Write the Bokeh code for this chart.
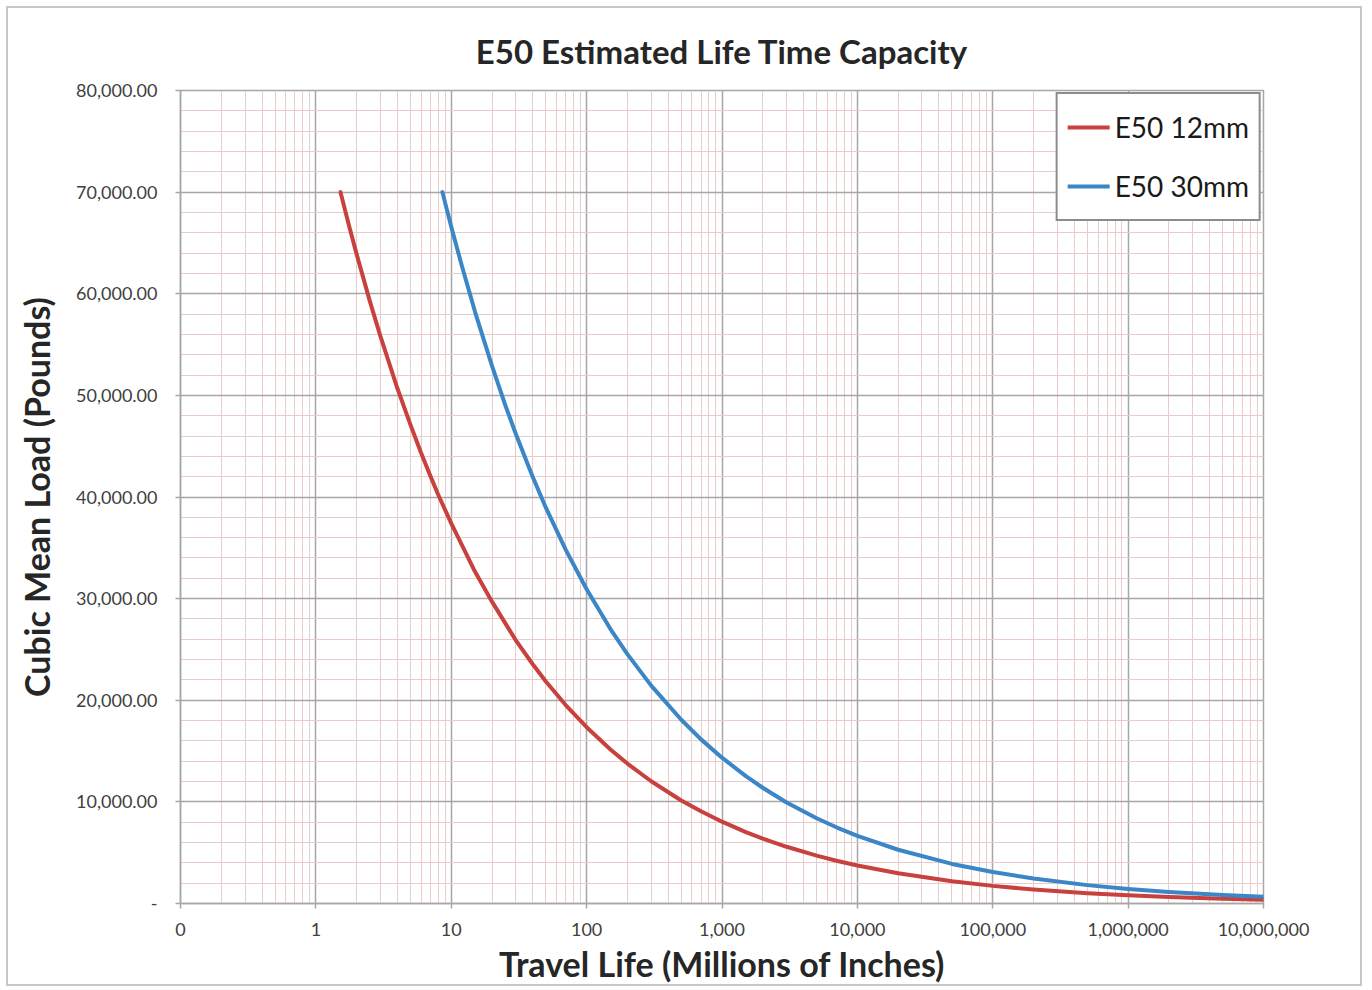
from bokeh.plotting import figure
from bokeh.models import FixedTicker, NumeralTickFormatter, Legend, LegendItem, Range1d
from bokeh.embed import file_html
from bokeh.resources import INLINE

title_text = "E50 Estimated Life Time Capacity"
x_label = "Travel Life (Millions of Inches)"
y_label = "Cubic Mean Load (Pounds)"

series_names = ["E50 12mm", "E50 30mm"]

life_12mm = [1.52, 1.75, 2, 2.5, 3, 4, 5, 6, 7, 8, 10, 15, 20, 30, 40, 50, 70, 100, 150, 200,
             300, 500, 700, 1000, 1500, 2000, 3000, 5000, 7000, 10000, 20000, 50000, 100000,
             200000, 500000, 1000000, 2000000, 5000000, 10000000]
load_12mm = [70000, 66800, 63900, 59300, 55800, 50700, 47100, 44300, 42100, 40250, 37400, 32640,
             29700, 25900, 23540, 21850, 19530, 17350, 15150, 13770, 12030, 10140, 9070, 8050,
             7030, 6390, 5580, 4710, 4210, 3740, 2970, 2185, 1735, 1377, 1014, 805, 639, 471, 374]

life_30mm = [8.6, 10, 12, 15, 20, 25, 30, 40, 50, 70, 100, 150, 200, 300, 500, 700, 1000, 1500,
             2000, 3000, 5000, 7000, 10000, 20000, 50000, 100000, 200000, 500000, 1000000,
             2000000, 5000000, 10000000]
load_30mm = [70000, 66600, 62700, 58200, 52900, 49080, 46200, 41960, 38950, 34820, 30920, 27010,
             24540, 21440, 18080, 16150, 14350, 12530, 11390, 9940, 8390, 7500, 6660, 5290, 3895,
             3092, 2454, 1808, 1435, 1139, 839, 666]

x_major = [0.1, 1, 10, 100, 1000, 10000, 100000, 1000000, 10000000]
y_major = [0, 10000, 20000, 30000, 40000, 50000, 60000, 70000, 80000]
y_minor = list(range(0, 80001, 2000))

x_minor = []
for d in x_major[:-1]:
    for k in range(1, 10):
        x_minor.append(d * k)
x_minor.append(x_major[-1])

red = "#c8413e"
blue = "#3a86c6"
major_grid = "#a6a6a6"
minor_grid = "#eacbcb"

p = figure(width=1356, height=980, x_axis_type="log",
           x_range=Range1d(x_major[0], x_major[-1]), y_range=Range1d(y_major[0], y_major[-1]),
           output_backend="svg", toolbar_location=None,
           min_border_left=172, min_border_top=82, min_border_right=101, min_border_bottom=85)
p.styles = {"border": "2px solid #c8c8c8", "margin": "6px"}

p.title.text = title_text
p.title.text_font = "Lato"
p.title.text_font_size = "33px"
p.title.text_font_style = "bold"
p.title.text_color = "#262626"
p.title.align = "center"
p.title.standoff = 40

p.xaxis.ticker = FixedTicker(ticks=x_major, minor_ticks=x_minor)
p.yaxis.ticker = FixedTicker(ticks=y_major, minor_ticks=y_minor)
p.xaxis.formatter = NumeralTickFormatter(format="0,0")
p.yaxis.formatter = NumeralTickFormatter(format="0,0.00")
p.yaxis.major_label_overrides = {0: "-"}

for ax in (p.xaxis, p.yaxis):
    ax.axis_line_color = major_grid
    ax.axis_line_width = 1.5
    ax.major_tick_line_color = major_grid
    ax.major_tick_line_width = 1.5
    ax.major_tick_out = 5
    ax.major_tick_in = 0
    ax.minor_tick_line_color = None
    ax.major_label_text_font = "Lato"
    ax.major_label_text_font_size = "18px"
    ax.major_label_text_color = "#404040"
    ax.axis_label_text_font = "Lato"
    ax.axis_label_text_font_size = "34px"
    ax.axis_label_text_font_style = "bold"
    ax.axis_label_text_color = "#262626"

p.xaxis.axis_label = x_label
p.yaxis.axis_label = y_label
p.xaxis.major_label_standoff = 14
p.yaxis.major_label_standoff = 18
p.xaxis.axis_label_standoff = 4
p.yaxis.axis_label_standoff = 16

for g in (p.xgrid, p.ygrid):
    g.grid_line_color = major_grid
    g.grid_line_width = 1.5
    g.minor_grid_line_color = minor_grid
    g.minor_grid_line_width = 1

p.outline_line_color = major_grid
p.outline_line_width = 1.5

r1 = p.line(life_12mm, load_12mm, line_color=red, line_width=4, line_cap="round", line_join="round")
r2 = p.line(life_30mm, load_30mm, line_color=blue, line_width=4, line_cap="round", line_join="round")

legend = Legend(items=[LegendItem(label=series_names[0], renderers=[r1]),
                       LegendItem(label=series_names[1], renderers=[r2])],
                location="top_right")
legend.margin = 2
legend.padding = 10
legend.spacing = 13
legend.label_height = 46
legend.glyph_height = 46
legend.glyph_width = 42
legend.label_standoff = 5
legend.label_text_font = "Lato"
legend.label_text_font_size = "28px"
legend.label_text_color = "#1a1a1a"
legend.border_line_color = "#1a1a1a"
legend.border_line_width = 2
legend.background_fill_color = "white"
legend.background_fill_alpha = 1
p.add_layout(legend, "center")

open("out.html", "w").write(file_html(p, INLINE))
